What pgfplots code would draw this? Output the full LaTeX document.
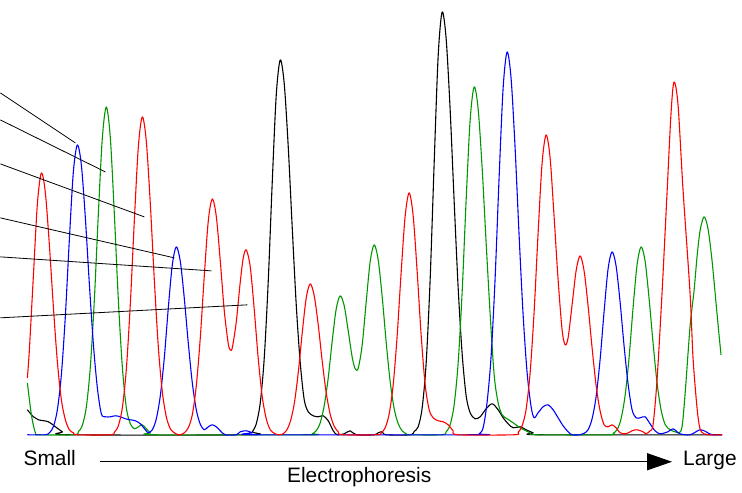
\documentclass[border=0pt]{standalone}
\usepackage{pgfplots}
\pgfplotsset{compat=1.18}
\usepackage{fontspec}
\setmainfont{Liberation Sans}
\usetikzlibrary{arrows.meta}
\definecolor{tracered}{RGB}{255,0,0}
\definecolor{tracegreen}{RGB}{0,150,0}
\definecolor{traceblue}{RGB}{0,0,255}
\begin{document}
\begin{tikzpicture}
\begin{axis}[
  width=742bp, height=493bp, scale only axis,
  xmin=0, xmax=742, ymin=0, ymax=493, y dir=reverse,
  hide axis, clip=false,
  every axis plot/.append style={line width=1.1pt, smooth, line join=round},
]
\path (rel axis cs:0,0) rectangle (rel axis cs:1,1);
% black trace
\addplot[black] coordinates {
(27,410) (33,417) (38,420) (48,422) (55,427) (62,432) (68,435) (248,435)
(252,432) (256,424) (260,403) (264,358) (268,281) (272,182) (276,95) (280,60)
(284,84) (288,147) (292,228) (296,305) (300,363) (304,400) (308,412) (313,416)
(318,417) (323,416) (328,421) (333,431) (337,435) (344,434) (350,431) (356,435)
(374,435) (378,433) (382,432) (386,435) (410,435) (414,431.6) (418,427) (422,408)
(426,363) (430,279) (434,163) (438,56) (442,12) (446,39) (450,110) (454,201.5)
(458,288) (462,354) (466,396) (470,413) (475,419) (480,417) (486,409) (492,404)
(498,410) (503,418) (508,424) (513,428) (520,427) (526,430) (533,433) (540,435) (722,435)
};
% green trace
\addplot[tracegreen] coordinates {
(27,383) (31,415) (35,433) (39,435) (74,435) (78,432) (82,425.5) (86,407)
(90,367) (94,300) (98,214) (102,138) (106,107) (110,138) (114,214) (118,300)
(122,367) (126,408) (130,424) (134,429) (138,427) (142,425) (146,429) (150,433)
(154,435) (308,435) (312,434) (316,431) (320,423) (324,406) (328,378) (332,341)
(336,309) (340,296) (344,306) (348,331) (352,357.5) (355,369) (358,368.5) (362,345)
(366,302) (370,261.5) (374,245) (378,260) (382,297) (386,342.5) (390,382) (394,409)
(398,424) (402,431) (406,434) (410,435) (442,435) (446,432) (450,425) (454,405)
(458,363) (462,292) (466,200) (470,120) (474,87) (478,109) (482,168) (486,243)
(490,314) (494,375) (498,403) (502,415) (507,419) (513,423) (520,428) (530,433)
(536,435) (609,435) (613,433.5) (617,430) (621,419) (625,396) (629,358) (633,308)
(637,265) (641,247) (645,261) (649,298.5) (653,343) (657,383) (661,410) (665,424.5)
(670,430) (675,432) (679,433) (682,427) (685,395) (690,327) (694,291) (697,257)
(700,231) (704,217) (708,229) (712,260.5) (716,303) (719,335) (721,355)
};
% blue trace
\addplot[traceblue] coordinates {
(27,435) (45,435) (49,433) (53,427) (57,410) (61,375) (65,316) (69,239.5)
(73,172) (77,145) (81,165) (85,218) (89,284) (93,344) (97,388) (101,414)
(105,417) (110,417) (115,416) (120,417) (125,419) (130,420) (135,421) (140,424)
(145,430) (148,433) (152,430) (156,419) (160,396) (164,358) (168,308) (172,265)
(176,247) (180,261.5) (184,298.5) (188,343.4) (192,383) (196,410) (200,424.5) (204,430)
(208,427) (212,425) (216,427) (220,431) (225,435) (236,435) (240,432) (246,431)
(252,433) (256,435) (475,435) (479,434) (483,428) (487,402) (491,356) (495,278)
(499,177) (503,88) (507,52) (511,79) (515,148.5) (519,236) (523,315) (527,373)
(531,407) (534,418) (538,413) (543,407) (548,405) (553,410) (558,418) (563,426)
(568,432) (572,435) (580,435) (584,433.5) (588,430) (592,419) (596,397) (600,360)
(604,312) (608,269) (612,252) (616,266) (620,302) (624,346) (628,384) (632,410)
(636,418) (640,418) (645,417) (650,424) (655,431) (660,434) (668,432) (673,429)
(680,434) (690,435) (700,430) (706,432) (712,435) (722,435)
};
% red trace
\addplot[tracered] coordinates {
(27,378) (29,350) (33,276) (37,204) (41,173) (45,193) (49,245) (53,307)
(57,362) (61,400) (65,420) (69,430) (73,433) (77,435) (110,435) (114,432.5)
(118,426) (122,408) (126,369.5) (130,304) (134,221) (138,147) (142,117) (146,141.5)
(150,204) (154,280) (158,347) (162,392) (166,417) (170,429) (174,433) (178,435)
(180,435) (184,433) (188,428) (192,415) (196,386) (200,338) (204,276) (208,221)
(212,199) (216,216.5) (220,261) (224,311) (228,344) (230,350) (232,348) (236,322)
(240,282) (243,258) (246,250) (250,267) (254,310) (258,359) (262,397) (266,419)
(270,430) (274,433.5) (278,435) (282,434.5) (286,431) (290,422) (294,404) (298,373)
(302,333) (306,298) (310,284) (314,296) (318,325) (322,361.5) (326,393) (330,414.6)
(334,426.5) (338,432) (342,435) (377,435) (381,433) (385,428) (389,414) (393,385)
(397,335.5) (401,272) (405,216) (409,193) (413,216) (417,272) (421,335.5) (425,385)
(429,410) (433,418) (438,421) (443,422) (448,425) (453,431) (458,435) (514,435)
(518,432.6) (522,426) (526,409.5) (530,373) (534,312) (538,233) (542,163) (546,135)
(550,158) (554,217) (558,280) (562,330) (565,345) (568,338) (572,305) (576,271)
(580,256) (584,271) (588,306) (592,348) (596,385.5) (600,411) (604,425) (608,427)
(612,425) (616,428) (620,433) (626,434) (632,431) (637,430) (643,432) (646,434)
(650,431) (653,425) (657,380) (662,293) (667,193) (671,113) (674,82) (678,105)
(683,190) (690,293) (693,358) (697,408) (700,429) (704,434) (708,435) (722,435)
};
% pointer lines
\addplot[black, line width=0.8pt, sharp plot] coordinates {(0,93) (75,143)};
\addplot[black, line width=0.8pt, sharp plot] coordinates {(0,120) (105,172)};
\addplot[black, line width=0.8pt, sharp plot] coordinates {(0,164) (144,217)};
\addplot[black, line width=0.8pt, sharp plot] coordinates {(0,218) (174,258)};
\addplot[black, line width=0.8pt, sharp plot] coordinates {(0,257) (211,271)};
\addplot[black, line width=0.8pt, sharp plot] coordinates {(0,318) (247,305)};
% electrophoresis arrow
\addplot[black, line width=1.3pt, sharp plot, -{Triangle[length=25bp, width=17bp]}]
  coordinates {(100,462) (672,462)};
\node[anchor=base west, inner sep=0pt, font=\fontsize{21}{25}\selectfont] at (axis cs:23,466) {Small};
\node[anchor=base west, inner sep=0pt, font=\fontsize{21}{25}\selectfont] at (axis cs:683,466) {Large};
\node[anchor=base, inner sep=0pt, font=\fontsize{21}{25}\selectfont] at (axis cs:359,483) {Electrophoresis};
\end{axis}
\end{tikzpicture}
\end{document}
